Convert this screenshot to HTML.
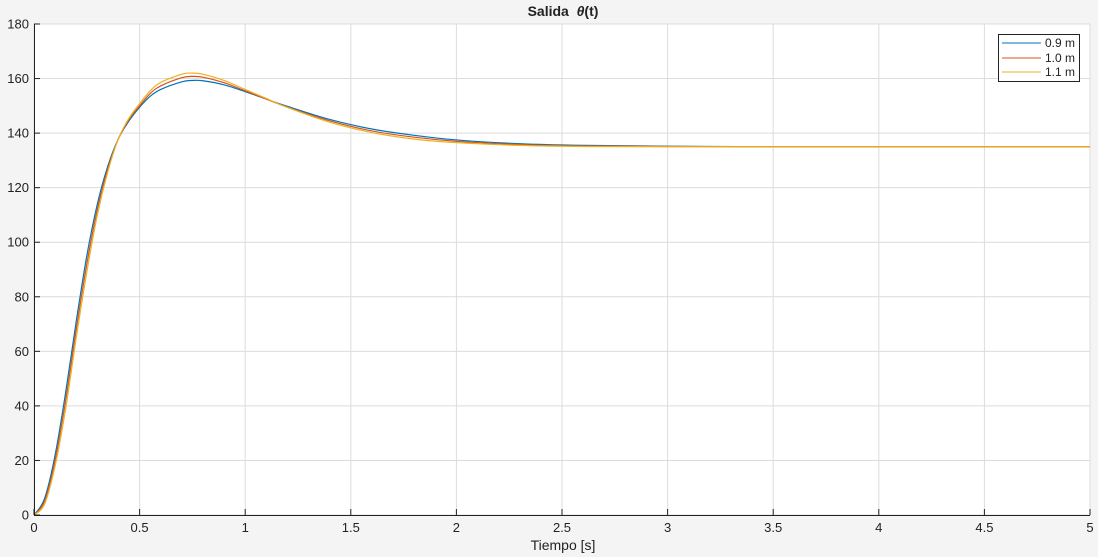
<!DOCTYPE html>
<html><head><meta charset="utf-8"><style>
body{margin:0;background:#f4f4f4;font-family:"Liberation Sans",sans-serif;}
svg{display:block}
</style></head><body>
<svg id="chart" width="1098" height="557">
<rect x="0" y="0" width="1098" height="557" fill="#f4f4f4"/>
<rect x="34" y="24" width="1056" height="491" fill="#fff"/>
<g id="grid"></g><g id="series"></g><g id="axes"></g>
<text x="563" y="16" text-anchor="middle" font-size="14" font-weight="bold" fill="#222">Salida&#160;&#160;<tspan font-style="italic">θ</tspan>(t)</text>
<text x="563" y="550" text-anchor="middle" font-size="14" fill="#222">Tiempo [s]</text>
<g>
<rect x="998.5" y="34.5" width="81" height="47" fill="#fff" stroke="#222"/>
<line x1="1002" y1="43" x2="1041" y2="43" stroke="#0072bd"/>
<text x="1045" y="47" font-size="12" fill="#222">0.9 m</text>
<line x1="1002" y1="58" x2="1041" y2="58" stroke="#d95319"/>
<text x="1045" y="62" font-size="12" fill="#222">1.0 m</text>
<line x1="1002" y1="72" x2="1041" y2="72" stroke="#edb120"/>
<text x="1045" y="76" font-size="12" fill="#222">1.1 m</text>
</g>
</svg>
<script>
const times=[0,0.05,0.1,0.15,0.2,0.25,0.3,0.35,0.4,0.45,0.5,0.55,0.6,0.7,0.75,0.8,0.9,1.0,1.1,1.2,1.4,1.6,1.8,2.0,2.3,2.6,3,3.5,4,5];
const s09=[0,6,22,45,71,95,114,128,138,144.5,149.5,153.5,156,158.8,159.3,159.2,157.7,155.2,152.5,149.8,145,141.5,139.2,137.5,136.1,135.5,135.2,135,135,135];
const s10=[0,5,20,42,68,92,112,127,138,145,150,154.5,157.3,160.3,160.8,160.5,158.5,155.5,152.5,149.5,144.5,140.8,138.5,137,135.8,135.3,135.1,135,135,135];
const s11=[0,4,18,39,65,89,110,126,138,145.5,150.8,155.5,158.6,161.6,162,161.6,159.3,156,152.7,149.4,144,140.2,137.8,136.5,135.5,135.1,135,135,135,135];
const xTicks=[0,0.5,1,1.5,2,2.5,3,3.5,4,4.5,5];
const yTicks=[0,20,40,60,80,100,120,140,160,180];
const X=t=>34+t/5*1056, Y=v=>515-v/180*491;
const NS="http://www.w3.org/2000/svg";
function mk(p,tag,a){const e=document.createElementNS(NS,tag);for(const k in a)e.setAttribute(k,a[k]);p.appendChild(e);return e;}
const grid=document.getElementById('grid'),axes=document.getElementById('axes'),ser=document.getElementById('series');
xTicks.forEach(t=>{
 const g=mk(grid,'line',{x1:X(t),x2:X(t),y1:24,y2:515,stroke:'#dcdcdc'});
 
 
 const tk=mk(axes,'line',{x1:X(t),x2:X(t),y1:515,y2:509,stroke:'#222'});
 
 
 const l=mk(axes,'text',{x:X(t),y:532,'text-anchor':'middle','font-size':13,fill:'#222'});l.textContent=t;
 
 
});
yTicks.forEach(v=>{
 const g=mk(grid,'line',{x1:34,x2:1090,y1:Y(v),y2:Y(v),stroke:'#dcdcdc'});
 
 
 const tk=mk(axes,'line',{x1:34,x2:40,y1:Y(v),y2:Y(v),stroke:'#222'});
 
 
 const l=mk(axes,'text',{x:29,y:Y(v)+4.5,'text-anchor':'end','font-size':13,fill:'#222'});l.textContent=v;
 
 
});
const ax=mk(axes,'path',{d:'M34.5 24V515.5H1090',fill:'none',stroke:'#222'});


function pathFor(vals){
 const p=times.map((t,i)=>[X(t),Y(vals[i])]);
 let d='M'+p[0][0]+' '+p[0][1];
 for(let i=0;i<p.length-1;i++){
  const p0=p[Math.max(0,i-1)],p1=p[i],p2=p[i+1],p3=p[Math.min(p.length-1,i+2)];
  const c1=[p1[0]+(p2[0]-p0[0])/6,p1[1]+(p2[1]-p0[1])/6];
  const c2=[p2[0]-(p3[0]-p1[0])/6,p2[1]-(p3[1]-p1[1])/6];
  d+=`C${c1[0]} ${c1[1]} ${c2[0]} ${c2[1]} ${p2[0]} ${p2[1]}`;
 }
 return d;
}
[[s09,'#0072bd','series-0-9m'],[s10,'#d95319','series-1-0m'],[s11,'#edb120','series-1-1m']].forEach(([v,c,n])=>{
 const e=mk(ser,'path',{d:pathFor(v),fill:'none',stroke:c,'stroke-width':1.2});
 
 
});
</script>
</body></html>
